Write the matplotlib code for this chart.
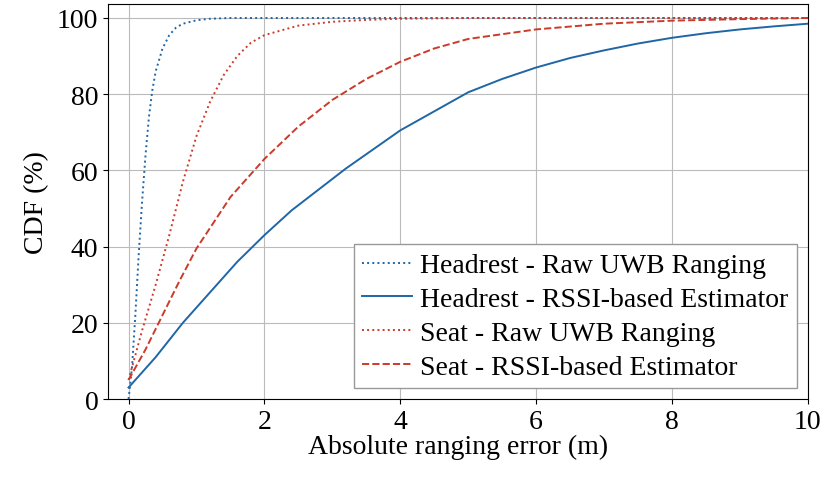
import matplotlib
matplotlib.use("Agg")
import matplotlib.pyplot as plt

plt.rcParams["font.family"] = "Liberation Serif"
plt.rcParams["font.size"] = 20

hr_x = [0, 0.05, 0.1, 0.15, 0.2, 0.25, 0.3, 0.35, 0.4, 0.5, 0.6, 0.7, 0.8, 1.0, 1.2, 1.5, 2, 10]
hr_y = [0, 8, 22, 38, 52, 64, 74, 81, 86, 92, 95.5, 97.5, 98.5, 99.4, 99.8, 100, 100, 100]
hs_x = [0, 0.4, 0.8, 1.2, 1.6, 2.0, 2.4, 2.8, 3.2, 3.6, 4.0, 4.5, 5.0, 5.5, 6.0, 6.5, 7.0, 7.5, 8.0, 8.5, 9.0, 9.5, 10]
hs_y = [3, 11, 20, 28, 36, 43, 49.5, 55, 60.5, 65.5, 70.5, 75.5, 80.5, 84, 87, 89.5, 91.5, 93.3, 94.8, 96, 97, 97.8, 98.5]
sr_x = [0, 0.2, 0.4, 0.6, 0.8, 1.0, 1.2, 1.4, 1.6, 1.8, 2.0, 2.5, 3.0, 3.5, 4.0, 5.0, 10]
sr_y = [5, 18, 30, 43, 57, 69, 78, 85, 90, 93.5, 95.5, 98, 99, 99.5, 99.8, 100, 100]
ss_x = [0, 0.25, 0.5, 0.75, 1.0, 1.5, 2.0, 2.5, 3.0, 3.5, 4.0, 4.5, 5.0, 6.0, 7.0, 8.0, 9.0, 10]
ss_y = [5, 13, 22, 31, 39.5, 53, 63, 71.5, 78.5, 84, 88.5, 92, 94.5, 97, 98.5, 99.3, 99.7, 100]

blue = "#1f66a6"
red = "#cc3a2a"

fig = plt.figure(figsize=(8.32, 4.89), dpi=100)
ax = fig.add_axes([0.13, 0.182, 0.841, 0.808])
ax.plot(hr_x, hr_y, ":", color=blue, lw=1.4, label="Headrest - Raw UWB Ranging")
ax.plot(hs_x, hs_y, "-", color=blue, lw=1.4, label="Headrest - RSSI-based Estimator")
ax.plot(sr_x, sr_y, ":", color=red, lw=1.4, label="Seat - Raw UWB Ranging")
ax.plot(ss_x, ss_y, "--", color=red, lw=1.4, label="Seat - RSSI-based Estimator")
ax.set_xlim(-0.3, 10)
ax.set_ylim(0, 103.7)
ax.set_xticks([0, 2, 4, 6, 8, 10])
ax.set_yticks([0, 20, 40, 60, 80, 100])
ax.grid(True, color="#bbbbbb", lw=0.8)
ax.set_xlabel("Absolute ranging error (m)", labelpad=0)
ax.set_ylabel("CDF (%)", labelpad=6)
ax.legend(loc="lower right", fancybox=False, edgecolor="#999999", framealpha=1,
          borderaxespad=0.4, handlelength=1.8, handletextpad=0.3,
          labelspacing=0.3, borderpad=0.3)
fig.savefig("out.png", dpi=100)
